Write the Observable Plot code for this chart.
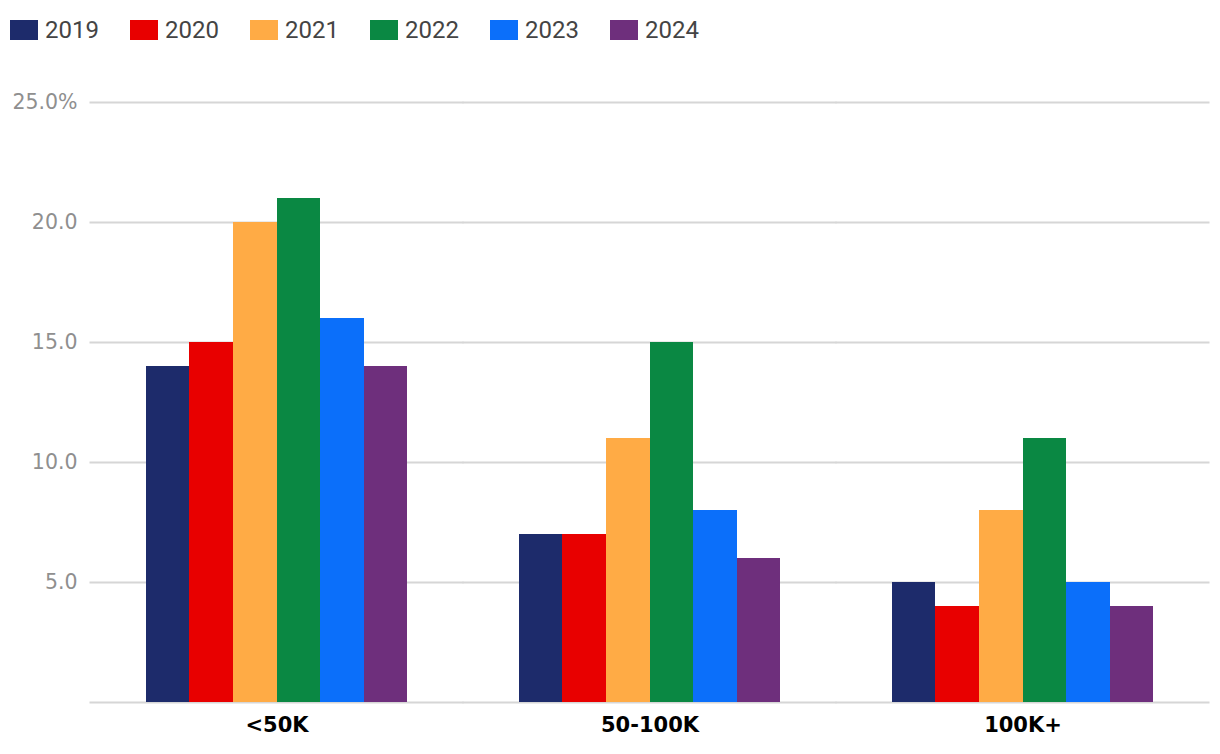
<!DOCTYPE html>
<html>
<head>
<meta charset="utf-8">
<script src="https://cdn.jsdelivr.net/npm/d3@7"></script>
<script src="https://cdn.jsdelivr.net/npm/@observablehq/plot@0.6"></script>
<style>
  html, body { margin: 0; padding: 0; background: #fff; }
  #legend { height: 60px; box-sizing: border-box; padding-top: 20px; padding-left: 10px; display: flex; }
  .item { width: 120px; display: flex; align-items: center; height: 20px; }
  .sw { width: 28px; height: 20px; margin-right: 7px; flex: none; }
  .lbl { font-family: Roboto, sans-serif; font-size: 24px; color: #444; line-height: 20px; }
  svg { display: block; }
</style>
</head>
<body>
<div id="legend"></div>
<div id="chart"></div>
<script>
const categories = ["<50K", "50-100K", "100K+"];
const years = ["2019", "2020", "2021", "2022", "2023", "2024"];
const colors = ["#1d2b6b", "#e80000", "#ffab45", "#0a8843", "#0b6ffa", "#6e2f7c"];
const valuesUnder50K = [14, 15, 20, 21, 16, 14];
const values50to100K = [7, 7, 11, 15, 8, 6];
const values100KPlus = [5, 4, 8, 11, 5, 4];
const gridTicks = [0, 5, 10, 15, 20, 25];
const yTicks = [5, 10, 15, 20, 25];
const yTickLabels = ["5.0", "10.0", "15.0", "20.0", "25.0%"];

const series = [valuesUnder50K, values50to100K, values100KPlus];
const data = [];
categories.forEach((c, ci) => years.forEach((y, yi) => data.push({category: c, year: y, value: series[ci][yi]})));

// legend
const legend = document.getElementById("legend");
years.forEach((y, i) => {
  const it = document.createElement("div");
  it.className = "item";
  const sw = document.createElement("div");
  sw.className = "sw";
  sw.style.background = colors[i];
  const lb = document.createElement("span");
  lb.className = "lbl";
  lb.textContent = y;
  it.appendChild(sw); it.appendChild(lb);
  legend.appendChild(it);
});

const W = 1220, mL = 90, mR = 11;
const padInner = 0.3, padOuter = 0.15;
const step = (W - mL - mR) / (categories.length - padInner + 2 * padOuter);
const ext = step * padOuter;

const chart = Plot.plot({
  width: W,
  height: 694,
  marginTop: 42,
  marginBottom: 52,
  marginLeft: mL,
  marginRight: mR,
  style: { fontFamily: "DejaVu Sans, sans-serif", background: "#fff" },
  fx: { domain: categories, paddingInner: padInner, paddingOuter: padOuter, round: false, label: null, axis: null },
  x: { domain: years, padding: 0, round: false, axis: null },
  y: { domain: [0, 25], axis: null },
  color: { domain: years, range: colors },
  marks: [
    Plot.ruleY(gridTicks, { stroke: "#d6d6d6", strokeWidth: 2, insetLeft: -ext - 0.5, insetRight: -ext - 0.5 }),
    Plot.barY(data, { fx: "category", x: "year", y: "value", fill: "year", shapeRendering: "crispEdges" }),
    Plot.axisY({
      ticks: yTicks,
      tickFormat: d => yTickLabels[yTicks.indexOf(d)],
      tickSize: 0,
      tickPadding: 13 + ext,
      fontSize: 20.5,
      fill: "#8f8f8f",
      label: null
    }),
    Plot.axisFx({
      anchor: "bottom",
      tickSize: 0,
      tickPadding: 15,
      fontSize: 21,
      fontWeight: "bold",
      fill: "#000",
      label: null
    })
  ]
});
document.getElementById("chart").appendChild(chart);
</script>
</body>
</html>
